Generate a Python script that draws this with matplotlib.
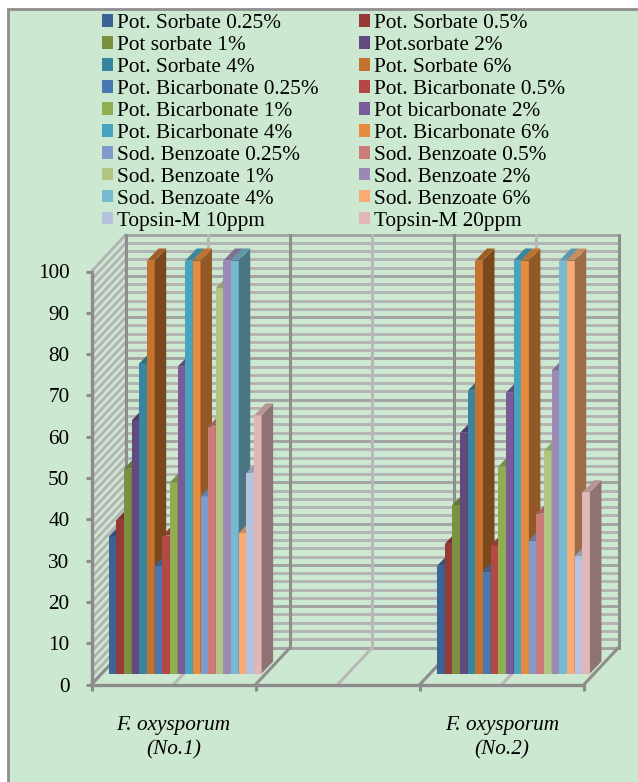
import numpy as np
from matplotlib import pyplot as plt
from matplotlib.patches import Patch, Rectangle

plt.rcParams['font.family'] = ['Liberation Serif', 'DejaVu Serif']

W, H = 638, 782

series = ['Pot. Sorbate 0.25%', 'Pot. Sorbate 0.5%', 'Pot sorbate 1%', 'Pot.sorbate 2%',
          'Pot. Sorbate 4%', 'Pot. Sorbate 6%', 'Pot. Bicarbonate 0.25%', 'Pot. Bicarbonate 0.5%',
          'Pot. Bicarbonate 1%', 'Pot bicarbonate 2%', 'Pot. Bicarbonate 4%', 'Pot. Bicarbonate 6%',
          'Sod. Benzoate 0.25%', 'Sod. Benzoate 0.5%', 'Sod. Benzoate 1%', 'Sod. Benzoate 2%',
          'Sod. Benzoate 4%', 'Sod. Benzoate 6%', 'Topsin-M 10ppm', 'Topsin-M 20ppm']
no1 = [33.2, 37.2, 49.6, 61.3, 75.1, 100, 26.1, 33.4, 46.3, 74.3,
       100, 100, 42.9, 59.8, 93.3, 100, 100, 34, 48.6, 62.5]
no2 = [26.1, 31.4, 40.8, 58.3, 68.5, 100, 24.7, 31, 50.1, 68,
       100, 100, 32.2, 38.7, 54, 73.4, 100, 100, 28.4, 43.9]
colors = ['#3B6496', '#963A38', '#7A9140', '#624A7E', '#37859E', '#C4722E', '#4A78B2', '#B34845',
          '#90AD50', '#795B9C', '#47A3BE', '#E78C3C', '#7E9BCB', '#CD7B79', '#B2C681', '#9C88B5',
          '#75B9D2', '#F8AB74', '#B6C3DF', '#E0B7B6']
cat_pos = [0.5, 1.5, 2.5]
cat_labels = ['F. oxysporum\n(No.1)', '', 'F. oxysporum\n(No.2)']


def shade(c, f):
    rgb = np.array([int(c[i:i + 2], 16) for i in (1, 3, 5)]) / 255
    return tuple(rgb * f)


fig = plt.figure(figsize=(W / 100, H / 100), dpi=100, facecolor='white')
fig.add_artist(Rectangle((8 / W, -0.02), 1, (H - 9) / H + 0.02, transform=fig.transFigure,
                         fc='#CDE8D0', ec='#8E8E8E', lw=2, zorder=-1))

ax = fig.add_axes([91.5 / W, (H - 684.5) / H, 492.5 / W, 413 / H], facecolor='none')
ax.set_xlim(0, 3)
ax.set_ylim(0, 100)

# wall depth and bar depth, in data units
dx, dy = 34.5 / 164, 37 / 4.13
bar_dx, bar_dy = 11.5 / 164, 12 / 4.13
base_x, base_y = 0.071, 2.66
bw = 7.63 / 164

for v in range(0, 101, 2):
    c = '#A3A3A3' if v % 10 == 0 else '#B3B3B3'
    ax.plot([dx, 3 + dx], [v + dy, v + dy], color=c, lw=2.1, clip_on=False, zorder=1, solid_capstyle='butt')
    ax.plot([0, dx], [v, v + dy], color='#B3B3B3', lw=2.1, clip_on=False, zorder=1, solid_capstyle='butt')
for x in np.arange(0, 3.01, 0.5):
    major = x % 1 == 0
    c = '#8E8E8E' if major else '#B8B8B8'
    ax.plot([x + dx, x + dx], [dy, 100 + dy], color=c, lw=2.2, clip_on=False, zorder=1.5)
    ax.plot([x, x + dx], [0, dy], color=c, lw=2.2, clip_on=False, zorder=1.5)

z = 2
for center, values in zip([cat_pos[0], cat_pos[2]], [no1, no2]):
    for i, v in enumerate(values):
        left = center + base_x + (i - 10) * bw
        right = left + bw
        top = base_y + v
        ax.bar(left, v, width=bw, bottom=base_y, align='edge', color=colors[i], clip_on=False, zorder=z)
        ax.fill([right, right + bar_dx, right + bar_dx, right],
                [base_y, base_y + bar_dy, top + bar_dy, top],
                color=shade(colors[i], 0.63), lw=0, clip_on=False, zorder=z)
        ax.fill([left, right, right + bar_dx, left + bar_dx],
                [top, top, top + bar_dy, top + bar_dy],
                color=shade(colors[i], 0.82), lw=0, clip_on=False, zorder=z)
        z += 1

for s in ['top', 'right']:
    ax.spines[s].set_visible(False)
for s in ['left', 'bottom']:
    ax.spines[s].set_color('#8C8C8C')
    ax.spines[s].set_linewidth(2.4)
    ax.spines[s].set_zorder(50)

ax.set_yticks(range(0, 101, 10))
ax.tick_params(axis='y', length=4, width=2.2, color='#8C8C8C', labelsize=15.3, pad=12)
ax.set_xticks([0, 1, 2, 3], labels=[])
ax.set_xticks(cat_pos, labels=cat_labels, minor=True, fontstyle='italic', fontsize=15.3, linespacing=1.35)
ax.tick_params(axis='x', which='major', length=4, width=2.2, color='#8C8C8C')
ax.tick_params(axis='x', which='minor', length=0, pad=23)

# reference legend reads row by row, matplotlib fills column by column
handles = [Patch(fc=c, ec='none', label=s) for c, s in zip(colors, series)]
handles = handles[0::2] + handles[1::2]
fig.legend(handles=handles, ncol=2, loc='upper left', bbox_to_anchor=(102 / W, 1 - 14 / H),
           frameon=False, fontsize=15.3, handlelength=0.52, handleheight=0.52, handletextpad=0.2,
           labelspacing=0.14, columnspacing=1.89, borderpad=0, borderaxespad=0)

fig.savefig('out.png', dpi=100)
